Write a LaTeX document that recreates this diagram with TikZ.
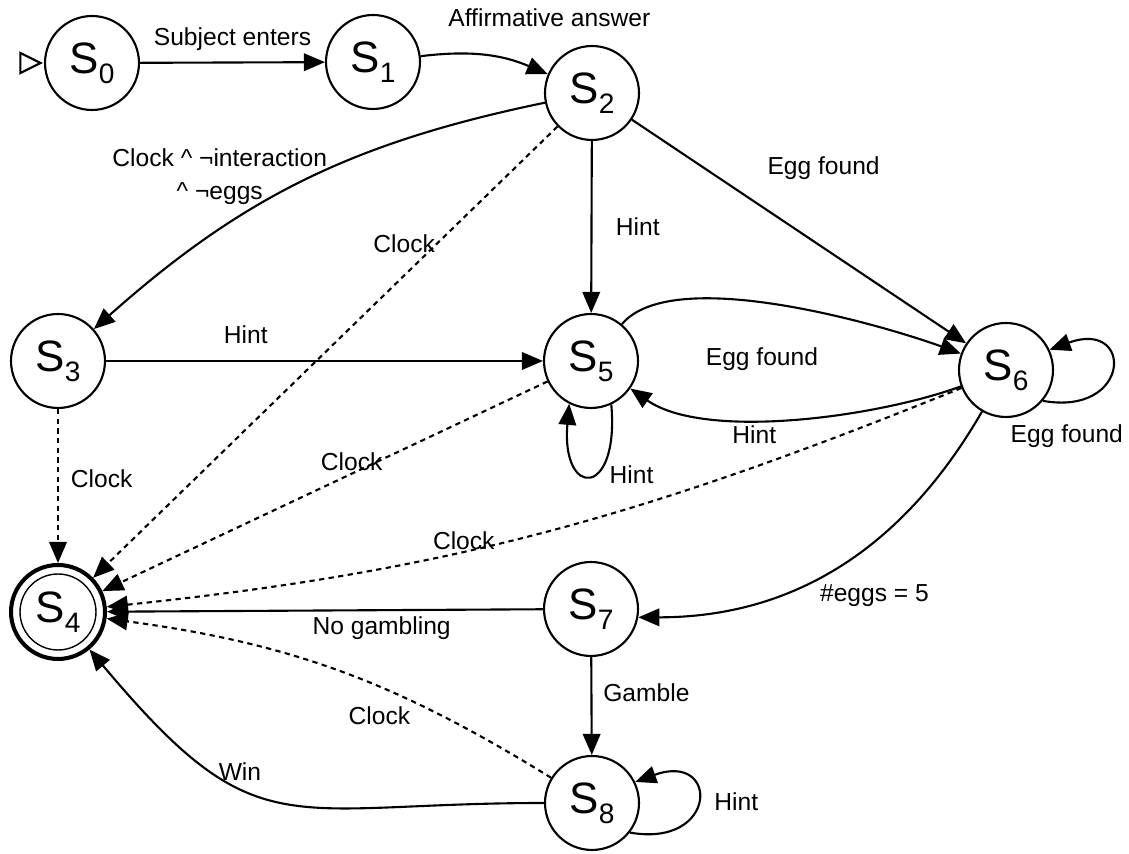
\documentclass[tikz,border=0pt]{standalone}
\usepackage{fontspec}
\setmainfont{Liberation Sans}
\usetikzlibrary{arrows.meta}

\newcommand{\sname}[1]{{\fontsize{25}{25}\selectfont S}\raisebox{-5.5pt}{\fontsize{16}{16}\selectfont #1}}

\begin{document}
\begin{tikzpicture}[x=0.02cm,y=0.02cm,very thick,
>={Triangle[length=12pt,width=10pt]},
font=\fontsize{14}{18.5}\selectfont,
state/.style={draw,circle,minimum size=1.88cm,inner sep=0pt,very thick},
accept/.style={draw,circle,minimum size=1.88cm,inner sep=0pt,line width=2.3pt},
timeout/.style={->,dash pattern=on 3pt off 2.5pt}]

\useasboundingbox (0,0) rectangle (1129,854);

% states
\draw (92,791) node[state] (S0) {\sname{0}};
\draw (373,792) node[state] (S1) {\sname{1}};
\draw (592,761) node[state] (S2) {\sname{2}};
\draw (58,493) node[state] (S3) {\sname{3}};
\draw (58,242) node[accept] (S4) {\sname{4}};
\draw[thick] (S4.center) circle (0.76cm);
\draw (591,493) node[state] (S5) {\sname{5}};
\draw (1006,484) node[state] (S6) {\sname{6}};
\draw (591,245) node[state] (S7) {\sname{7}};
\draw (592,51) node[state] (S8) {\sname{8}};

% start marker
\draw ([xshift=-2pt]S0.west) coordinate (init) -- ++(-20,10) -- ++(0,-20) -- cycle;

% transitions
\draw[->] (S0) -- node[above=0.1cm] {Subject enters} (S1);
\draw[->] (S1) to[bend left=15] node[pos=0.9,above=0.7cm,xshift=0.3cm] {Affirmative answer} (S2);
\draw[->] (S2) to[bend right=15] node[pos=0.5,xshift=-1.65cm,yshift=0.1cm,align=center] {Clock \textasciicircum{} ¬interaction\\\textasciicircum{} ¬eggs} (S3);
\draw[->] (S2) -- node[right=0.35cm] {Hint} (S5);
\draw[->] (S2) -- node[pos=0.4,above right,xshift=-0.1cm,yshift=0.45cm] {Egg found} (S6);
\draw[timeout] (S2) -- node[pos=0.26,left=-0.1cm] {Clock} (S4);
\draw[->] (S3) -- node[pos=0.32,above=0.2cm] {Hint} (S5);
\draw[timeout] (S3) -- node[pos=0.45,right=0.12cm] {Clock} (S4);
\draw[->] (S5) to[out=50,in=160,looseness=0.6] node[pos=0.45,below=0.77cm] {Egg found} (S6);
\draw[->] (S6) to[out=200,in=-35,looseness=0.7] node[pos=0.6,below] {Hint} (S5);
\draw[->] (S5.-65) to[out=-85,in=-95,distance=1.9cm] node[pos=0.5,right=0.25cm] {Hint} (S5.-117);
\draw[->] (S6.-40) to[out=-10,in=20,distance=1.8cm] node[pos=0.1,below=0.3cm] {Egg found} (S6.25);
\draw[->] (S6) to[out=240,in=0] node[pos=0.5,below=0.25cm,xshift=0.7cm] {\#eggs = 5} (S7.-10);
\draw[timeout] (S6) to[out=202,in=6] node[pos=0.6,above=-0.1cm] {Clock} (S4);
\draw[timeout] (S5) -- node[pos=0.44,above=-0.07cm] {Clock} (S4);
\draw[->] (S7) -- node[pos=0.37,below] {No gambling} (S4);
\draw[->] (S7) -- node[pos=0.36,right=0.1cm] {Gamble} (S8);
\draw[timeout] (S8) to[bend right=12] node[pos=0.4,below=0.26cm] {Clock} (S4);
\draw[->] (S8) to[out=180,in=-50,looseness=1.4] node[pos=0.62,above] {Win} (S4);
\draw[->] (S8.-38) to[out=-10,in=20,distance=1.8cm] node[pos=0.5,right=0.2cm] {Hint} (S8.26);
\end{tikzpicture}
\end{document}
